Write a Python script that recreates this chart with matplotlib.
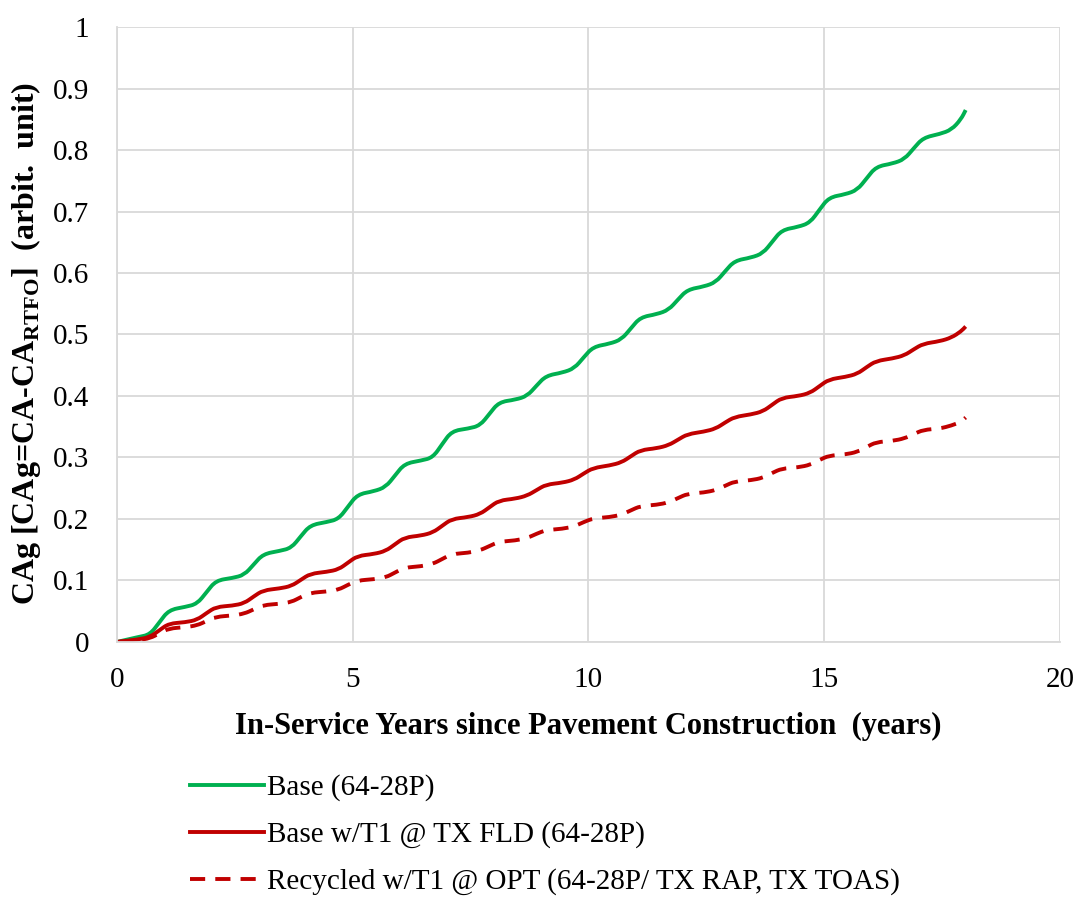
import matplotlib
matplotlib.use("Agg")
import matplotlib.pyplot as plt
from matplotlib.path import Path
from matplotlib.patches import PathPatch
from matplotlib.lines import Line2D

plt.rcParams['font.family'] = ['Liberation Serif', 'DejaVu Serif']
plt.rcParams['mathtext.fontset'] = 'custom'
plt.rcParams['mathtext.rm'] = 'Liberation Serif:bold'
plt.rcParams['mathtext.bf'] = 'Liberation Serif:bold'

years = [0.0, 0.45, 0.7, 0.9,
         1.1, 1.45, 1.7, 1.9, 2.1, 2.45, 2.7, 2.9, 3.1, 3.45, 3.7, 3.9,
         4.1, 4.45, 4.7, 4.9, 5.1, 5.45, 5.7, 5.9, 6.1, 6.45, 6.7, 6.9,
         7.1, 7.45, 7.7, 7.9, 8.1, 8.45, 8.7, 8.9, 9.1, 9.45, 9.7, 9.9,
         10.1, 10.45, 10.7, 10.9, 11.1, 11.45, 11.7, 11.9, 12.1, 12.45, 12.7, 12.9,
         13.1, 13.45, 13.7, 13.9, 14.1, 14.45, 14.7, 14.9, 15.1, 15.45, 15.7, 15.9,
         16.1, 16.45, 16.7, 16.9, 17.1, 17.45, 17.7, 17.9, 18.0]

base = [0.000, 0.008, 0.012, 0.032,
        0.052, 0.057, 0.062, 0.081, 0.100, 0.104, 0.109, 0.126, 0.143, 0.148, 0.153, 0.172,
        0.190, 0.195, 0.200, 0.220, 0.240, 0.245, 0.252, 0.271, 0.290, 0.295, 0.300, 0.322,
        0.343, 0.347, 0.352, 0.371, 0.390, 0.394, 0.400, 0.417, 0.433, 0.438, 0.445, 0.463,
        0.480, 0.485, 0.492, 0.510, 0.528, 0.533, 0.540, 0.557, 0.573, 0.578, 0.585, 0.603,
        0.620, 0.625, 0.632, 0.651, 0.670, 0.675, 0.682, 0.703, 0.723, 0.728, 0.735, 0.754,
        0.773, 0.778, 0.785, 0.803, 0.820, 0.826, 0.833, 0.850, 0.865]

base_t1 = [0.000, 0.004, 0.008, 0.019,
           0.030, 0.032, 0.036, 0.047, 0.057, 0.059, 0.063, 0.074, 0.084, 0.087, 0.091, 0.101,
           0.111, 0.114, 0.118, 0.129, 0.140, 0.143, 0.148, 0.159, 0.170, 0.173, 0.178, 0.189,
           0.200, 0.203, 0.208, 0.219, 0.230, 0.233, 0.238, 0.247, 0.256, 0.259, 0.264, 0.274,
           0.283, 0.287, 0.292, 0.302, 0.312, 0.315, 0.320, 0.329, 0.338, 0.342, 0.347, 0.357,
           0.366, 0.370, 0.375, 0.386, 0.397, 0.400, 0.405, 0.416, 0.427, 0.431, 0.436, 0.447,
           0.457, 0.461, 0.466, 0.476, 0.485, 0.489, 0.495, 0.505, 0.513]

recycled = [0.000, 0.003, 0.006, 0.014,
            0.022, 0.024, 0.027, 0.034, 0.041, 0.043, 0.046, 0.053, 0.060, 0.062, 0.065, 0.073,
            0.080, 0.082, 0.085, 0.093, 0.100, 0.102, 0.105, 0.113, 0.121, 0.123, 0.127, 0.135,
            0.143, 0.145, 0.149, 0.156, 0.163, 0.165, 0.169, 0.176, 0.182, 0.184, 0.188, 0.195,
            0.201, 0.203, 0.207, 0.214, 0.221, 0.223, 0.227, 0.234, 0.241, 0.243, 0.247, 0.254,
            0.261, 0.263, 0.267, 0.275, 0.282, 0.284, 0.288, 0.296, 0.303, 0.305, 0.309, 0.317,
            0.325, 0.327, 0.331, 0.338, 0.345, 0.347, 0.352, 0.358, 0.365]

labels = ['Base (64-28P)',
          'Base w/T1 @ TX FLD (64-28P)',
          'Recycled w/T1 @ OPT (64-28P/ TX RAP, TX TOAS)']

GREEN = '#00B050'
RED = '#C00000'
LW = 2.8
DASH = (0, (3.9, 2.6))


def smooth_path(xs, ys):
    """Smoothed rendering through the data (quadratic Beziers via midpoints)."""
    verts = [(xs[0], ys[0])]
    codes = [Path.MOVETO]
    verts.append(((xs[0] + xs[1]) / 2, (ys[0] + ys[1]) / 2))
    codes.append(Path.LINETO)
    for i in range(1, len(xs) - 1):
        verts.append((xs[i], ys[i]))
        verts.append(((xs[i] + xs[i + 1]) / 2, (ys[i] + ys[i + 1]) / 2))
        codes += [Path.CURVE3, Path.CURVE3]
    verts.append((xs[-1], ys[-1]))
    codes.append(Path.LINETO)
    return Path(verts, codes)


fig = plt.figure(figsize=(10.78, 9.01), dpi=100)
ax = fig.add_axes([0.1085, 0.2875, 0.8748, 0.6825])

for ys, col, ls in [(base, GREEN, '-'), (base_t1, RED, '-'), (recycled, RED, DASH)]:
    ax.add_patch(PathPatch(smooth_path(years, ys), facecolor='none', edgecolor=col,
                           lw=LW, linestyle=ls, capstyle='butt', joinstyle='round'))

ax.set_xlim(0, 20)
ax.set_ylim(0, 1)
ax.set_xticks([0, 5, 10, 15, 20])
ax.set_yticks([i / 10 for i in range(11)])
ax.set_yticklabels(['0', '0.1', '0.2', '0.3', '0.4', '0.5', '0.6', '0.7', '0.8', '0.9', '1'])
ax.grid(True, color='#d9d9d9', lw=1.3)
ax.set_axisbelow(True)
for s in ['top', 'right']:
    ax.spines[s].set_visible(False)
for s in ['left', 'bottom']:
    ax.spines[s].set_color('#d9d9d9')
    ax.spines[s].set_linewidth(1.3)
ax.tick_params(length=0, labelsize=21, colors='#000000')
ax.tick_params(axis='y', pad=20)
ax.tick_params(axis='x', pad=18)

ax.set_xlabel('In-Service Years since Pavement Construction  (years)',
              fontsize=22, fontweight='bold', labelpad=14)
ax.set_ylabel(r'CAg [CAg=CA-CA$_{\mathbf{RTFO}}$]  (arbit.  unit)',
              fontsize=23, fontweight='bold')
ax.yaxis.set_label_coords(-0.078, 0.486)

handles = [Line2D([], [], color=GREEN, lw=LW),
           Line2D([], [], color=RED, lw=LW),
           Line2D([], [], color=RED, lw=LW, linestyle=DASH)]
fig.legend(handles, labels, loc='upper left', bbox_to_anchor=(0.176, 0.1405),
           frameon=False, fontsize=21, handlelength=2.55, handletextpad=0.1,
           labelspacing=0.69, borderaxespad=0, borderpad=0)

fig.savefig('out.png', dpi=100, facecolor='white')
